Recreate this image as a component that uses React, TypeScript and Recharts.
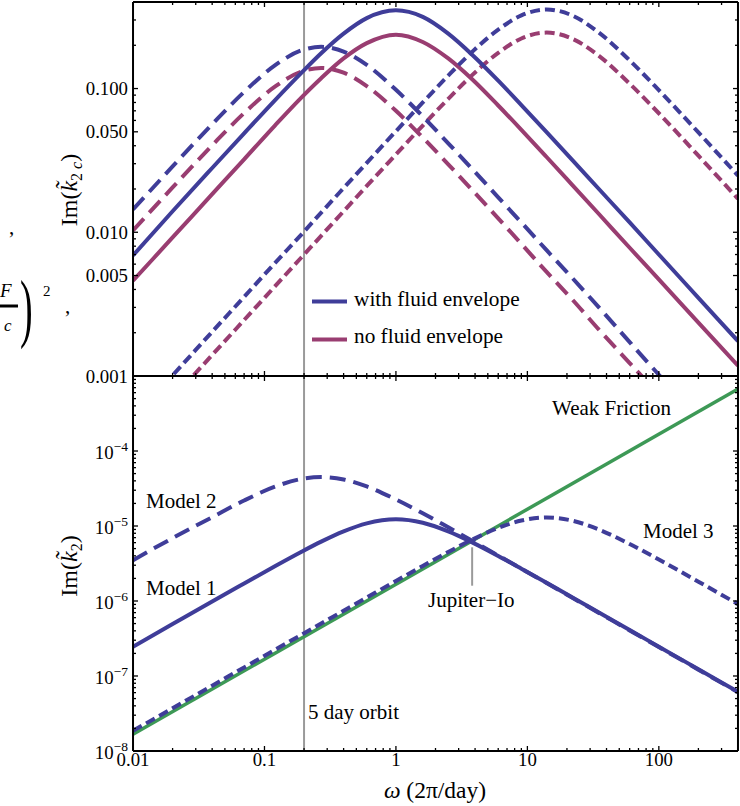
import React from "react";
import { LineChart, Line, XAxis, YAxis, ReferenceLine } from "recharts";

// frequency grid, omega in 2pi/day
const omega = [
  0.01, 0.02, 0.04, 0.07, 0.12, 0.19, 0.27, 0.4, 0.6, 1, 1.6, 2.5, 3.8, 6, 9,
  14, 22, 35, 60, 100, 200, 400,
];

// top panel: Im(k2c), with / without fluid envelope
const envModel1 = [
  0.0069, 0.014, 0.028, 0.0488, 0.0828, 0.128, 0.176, 0.241, 0.309, 0.35,
  0.315, 0.241, 0.172, 0.1135, 0.0768, 0.0498, 0.0318, 0.02, 0.0117, 0.007,
  0.0035, 0.00175,
];
const noEnvModel1 = [
  0.0046, 0.0092, 0.0184, 0.0322, 0.0553, 0.0862, 0.118, 0.162, 0.207, 0.237,
  0.211, 0.162, 0.116, 0.0762, 0.0516, 0.0334, 0.0213, 0.0134, 0.0078, 0.0047,
  0.00235, 0.00118,
];
const envModel2 = [
  0.0144, 0.0287, 0.0565, 0.0947, 0.145, 0.184, 0.195, 0.181, 0.146, 0.098,
  0.064, 0.0416, 0.0276, 0.0175, 0.0117, 0.0075, 0.0048, 0.003, 0.00172,
  0.00102, 0.00051, 0.000255,
];
const noEnvModel2 = [
  0.0103, 0.0205, 0.0403, 0.0675, 0.103, 0.131, 0.139, 0.129, 0.104, 0.070,
  0.0456, 0.0297, 0.0197, 0.0125, 0.0083, 0.0053, 0.0034, 0.0021, 0.00123,
  0.00074, 0.00037, 0.000185,
];
const envModel3 = [
  0.00051, 0.00101, 0.00203, 0.00355, 0.0061, 0.0096, 0.0137, 0.0203, 0.0304,
  0.0505, 0.080, 0.123, 0.180, 0.257, 0.323, 0.355, 0.322, 0.245, 0.157,
  0.0975, 0.0495, 0.0248,
];
const noEnvModel3 = [
  0.00035, 0.0007, 0.0014, 0.00245, 0.0042, 0.00665, 0.00945, 0.014, 0.021,
  0.0348, 0.0553, 0.0848, 0.124, 0.177, 0.223, 0.245, 0.222, 0.169, 0.108,
  0.0673, 0.0341, 0.0171,
];

// bottom panel: Im(k2) for the three models
const model1 = [
  2.46e-7, 4.92e-7, 9.83e-7, 1.71e-6, 2.91e-6, 4.51e-6, 6.19e-6, 8.48e-6,
  1.085e-5, 1.23e-5, 1.106e-5, 8.48e-6, 6.05e-6, 3.99e-6, 2.7e-6, 1.75e-6,
  1.116e-6, 7.02e-7, 4.1e-7, 2.46e-7, 1.23e-7, 6.15e-8,
];
const model2 = [
  3.5e-6, 6.9e-6, 1.31e-5, 2.19e-5, 3.34e-5, 4.24e-5, 4.5e-5, 4.18e-5, 3.37e-5,
  2.26e-5, 1.48e-5, 9.6e-6, 6.36e-6, 4.04e-6, 2.7e-6, 1.735e-6, 1.104e-6,
  6.94e-7, 4.05e-7, 2.43e-7, 1.215e-7, 6.08e-8,
];
const model3 = [
  1.86e-8, 3.71e-8, 7.43e-8, 1.3e-7, 2.23e-7, 3.53e-7, 5.01e-7, 7.42e-7,
  1.112e-6, 1.85e-6, 2.93e-6, 4.5e-6, 6.57e-6, 9.42e-6, 1.183e-5, 1.3e-5,
  1.178e-5, 8.96e-6, 5.75e-6, 3.57e-6, 1.81e-6, 9.09e-7,
];
const weakOmega = [0.01, 400];
const weakFriction = [1.67e-8, 6.7e-4];

// ticks
const xMajor = [0.01, 0.1, 1, 10, 100];
const xMinor = [
  0.02, 0.03, 0.04, 0.05, 0.06, 0.07, 0.08, 0.09, 0.2, 0.3, 0.4, 0.5, 0.6, 0.7,
  0.8, 0.9, 2, 3, 4, 5, 6, 7, 8, 9, 20, 30, 40, 50, 60, 70, 80, 90, 200, 300,
];
const topMajor = [0.001, 0.005, 0.01, 0.05, 0.1];
const topMinor = [
  0.002, 0.003, 0.004, 0.006, 0.007, 0.008, 0.009, 0.02, 0.03, 0.04, 0.06,
  0.07, 0.08, 0.09, 0.2, 0.3,
];
const bottomMajor = [1e-8, 1e-7, 1e-6, 1e-5, 1e-4];
const bottomExps = ["\u22128", "\u22127", "\u22126", "\u22125", "\u22124"];
const bottomMinor = [-8, -7, -6, -5, -4].flatMap((e) =>
  [2, 3, 4, 5, 6, 7, 8, 9].map((m) => m * Math.pow(10, e))
);

const BLUE = "#3F3D99";
const MAGENTA = "#993D71";
const GREEN = "#3D9956";
const GRAY = "#9a9a9a";
const FONT = "Liberation Serif, DejaVu Serif, serif";
const NOTE = 21; // annotation font size

const topRows = omega.map((w, i) => ({
  w,
  e1: envModel1[i],
  n1: noEnvModel1[i],
  e2: envModel2[i],
  n2: noEnvModel2[i],
  e3: envModel3[i],
  n3: noEnvModel3[i],
}));
const bottomRows = omega.map((w, i) => ({
  w,
  m1: model1[i],
  m2: model2[i],
  m3: model3[i],
}));
const weakRows = weakOmega.map((w, i) => ({ w, wf: weakFriction[i] }));

const tickFont = { fill: "#000", fontSize: 18.8, fontFamily: FONT };
const frame = { stroke: "#000", strokeWidth: 2 };
const tickStroke = { stroke: "#000", strokeWidth: 1.3 };
const THIN = 0.01; // axes need a size > 0 to be drawn

// recharts drops the tick lines when tick={false}, so draw an empty label instead
const NoLabel = () => <g />;

const PowerTick = (props: any) => {
  const { x, y, payload } = props;
  const idx = bottomMajor.findIndex((v) => Math.abs(v - payload.value) < v * 1e-6);
  return (
    <text x={x} y={y + 8} textAnchor="end" fill="#000" fontSize={18.8} style={{ fontFamily: FONT }}>
      10
      <tspan dy={-8} fontSize={13.5}>
        {bottomExps[idx]}
      </tspan>
    </text>
  );
};

// four framed sides, major and minor ticks pointing inward
function frameAxes(xDomain: number[], yDomain: number[], yMajor: number[], yMinor: number[], opts: any) {
  const xCommon = {
    type: "number" as const,
    dataKey: "w",
    scale: "log" as const,
    domain: xDomain,
    allowDataOverflow: true,
    height: THIN,
    interval: 0 as const,
  };
  const yCommon = {
    type: "number" as const,
    scale: "log" as const,
    domain: yDomain,
    allowDataOverflow: true,
    width: THIN,
    interval: 0 as const,
  };
  return [
    <XAxis key="b" xAxisId="b" {...xCommon} orientation="bottom" ticks={xMajor} tickSize={-5}
      axisLine={frame} tickLine={tickStroke} tick={opts.xLabels ? tickFont : NoLabel}
      tickFormatter={(v: number) => String(v)} tickMargin={7} />,
    <XAxis key="bm" xAxisId="bm" {...xCommon} orientation="bottom" ticks={xMinor} tickSize={-3}
      axisLine={false} tickLine={tickStroke} tick={NoLabel} />,
    <XAxis key="t" xAxisId="t" {...xCommon} orientation="top" ticks={xMajor} tickSize={-5}
      axisLine={frame} tickLine={tickStroke} tick={NoLabel} />,
    <XAxis key="tm" xAxisId="tm" {...xCommon} orientation="top" ticks={xMinor} tickSize={-3}
      axisLine={false} tickLine={tickStroke} tick={NoLabel} />,
    <YAxis key="l" yAxisId="l" {...yCommon} orientation="left" ticks={yMajor} tickSize={-5}
      axisLine={frame} tickLine={tickStroke} tick={opts.yTick} tickFormatter={opts.yFormat}
      tickMargin={10} />,
    <YAxis key="lm" yAxisId="lm" {...yCommon} orientation="left" ticks={yMinor} tickSize={-3}
      axisLine={false} tickLine={tickStroke} tick={NoLabel} />,
    <YAxis key="r" yAxisId="r" {...yCommon} orientation="right" ticks={yMajor} tickSize={-5}
      axisLine={frame} tickLine={tickStroke} tick={NoLabel} />,
    <YAxis key="rm" yAxisId="rm" {...yCommon} orientation="right" ticks={yMinor} tickSize={-3}
      axisLine={false} tickLine={tickStroke} tick={NoLabel} />,
  ];
}

const lineProps = {
  xAxisId: "b",
  yAxisId: "l",
  dot: false,
  activeDot: false,
  isAnimationActive: false,
  type: "monotone" as const,
};

const txt = { fontFamily: FONT };

export default function App() {
  return (
    <div style={{ position: "absolute", left: 0, top: 0, width: 740, height: 806, background: "#fff" }}>
      <div style={{ position: "absolute", left: 0, top: 0 }}>
        <LineChart width={740} height={392} data={topRows} margin={{ top: 2, right: 2, bottom: 16, left: 133 }}>
          {frameAxes([0.01, 400], [0.001, 0.4], topMajor, topMinor, {
            xLabels: false,
            yTick: tickFont,
            yFormat: (v: number) => v.toFixed(3),
          })}
          <ReferenceLine xAxisId="b" yAxisId="l" x={0.2} stroke={GRAY} strokeWidth={2} />
          <Line {...lineProps} dataKey="n1" stroke={MAGENTA} strokeWidth={4} />
          <Line {...lineProps} dataKey="n2" stroke={MAGENTA} strokeWidth={4} strokeDasharray="16 8" />
          <Line {...lineProps} dataKey="n3" stroke={MAGENTA} strokeWidth={4} strokeDasharray="10 5" />
          <Line {...lineProps} dataKey="e1" stroke={BLUE} strokeWidth={4} />
          <Line {...lineProps} dataKey="e2" stroke={BLUE} strokeWidth={4} strokeDasharray="16 8" />
          <Line {...lineProps} dataKey="e3" stroke={BLUE} strokeWidth={4} strokeDasharray="10 5" />
        </LineChart>
      </div>
      <div style={{ position: "absolute", left: 0, top: 370 }}>
        <LineChart width={740} height={436} data={bottomRows} margin={{ top: 6, right: 2, bottom: 55, left: 133 }}>
          {frameAxes([0.01, 400], [1e-8, 1e-3], bottomMajor, bottomMinor, {
            xLabels: true,
            yTick: <PowerTick />,
            yFormat: undefined,
          })}
          <ReferenceLine xAxisId="b" yAxisId="l" x={0.2} stroke={GRAY} strokeWidth={2} />
          <ReferenceLine
            xAxisId="b"
            yAxisId="l"
            segment={[
              { x: 3.8, y: 5.2e-6 },
              { x: 3.8, y: 1.6e-6 },
            ]}
            stroke={GRAY}
            strokeWidth={2}
          />
          <Line {...lineProps} data={weakRows} type="linear" dataKey="wf" stroke={GREEN} strokeWidth={3.5} />
          <Line {...lineProps} dataKey="m3" stroke={BLUE} strokeWidth={4} strokeDasharray="10 5" />
          <Line {...lineProps} dataKey="m1" stroke={BLUE} strokeWidth={4} />
          <Line {...lineProps} dataKey="m2" stroke={BLUE} strokeWidth={4} strokeDasharray="16 8" />
        </LineChart>
      </div>
      <svg
        width={740}
        height={806}
        style={{ position: "absolute", left: 0, top: 0, pointerEvents: "none", fontFamily: FONT }}
        fill="#000"
      >
        {/* clipped pieces of a neighbouring label */}
        <text x={9} y={234} fontSize={21} style={txt}>,</text>
        <text x={0} y={297} fontSize={19} fontStyle="italic" style={txt}>F</text>
        <line x1={0} x2={18} y1={306} y2={306} stroke="#000" strokeWidth={3} />
        <text x={4} y={331} fontSize={17} fontStyle="italic" style={txt}>c</text>
        <text transform="translate(20,333) scale(1,2)" fontSize={38} style={txt}>)</text>
        <text x={43} y={296} fontSize={15} style={txt}>2</text>
        <text x={65} y={313} fontSize={21} style={txt}>,</text>

        {/* legend */}
        <line x1={312} x2={347} y1={301.5} y2={301.5} stroke={BLUE} strokeWidth={4} />
        <text x={354} y={306} fontSize={21.3} style={txt}>with fluid envelope</text>
        <line x1={312} x2={347} y1={339.5} y2={339.5} stroke={MAGENTA} strokeWidth={4} />
        <text x={354} y={343} fontSize={21.3} style={txt}>no fluid envelope</text>

        {/* annotations */}
        <text x={552} y={415} fontSize={NOTE} style={txt}>Weak Friction</text>
        <text x={643} y={538} fontSize={NOTE} style={txt}>Model 3</text>
        <text x={428} y={607} fontSize={NOTE} style={txt}>Jupiter{"\u2212"}Io</text>
        <text x={146} y={508} fontSize={NOTE} style={txt}>Model 2</text>
        <text x={146} y={595} fontSize={NOTE} style={txt}>Model 1</text>
        <text x={308} y={719} fontSize={NOTE} style={txt}>5 day orbit</text>

        {/* axis titles */}
        <text transform="translate(77,190) rotate(-90)" textAnchor="middle" fontSize={24} style={txt}>
          Im(<tspan fontStyle="italic">k{"\u0303"}</tspan>
          <tspan fontSize={16} dy={5}>2</tspan>
          <tspan fontSize={16} fontStyle="italic">{" c"}</tspan>
          <tspan dy={-5}>)</tspan>
        </text>
        <text transform="translate(77,566) rotate(-90)" textAnchor="middle" fontSize={24} style={txt}>
          Im(<tspan fontStyle="italic">k{"\u0303"}</tspan>
          <tspan fontSize={16} dy={5}>2</tspan>
          <tspan dy={-5}>)</tspan>
        </text>
        <text x={435} y={798} textAnchor="middle" fontSize={23.5} style={txt}>
          <tspan fontStyle="italic">{"\u03c9"}</tspan> (2{"\u03c0"}/day)
        </text>
      </svg>
    </div>
  );
}
